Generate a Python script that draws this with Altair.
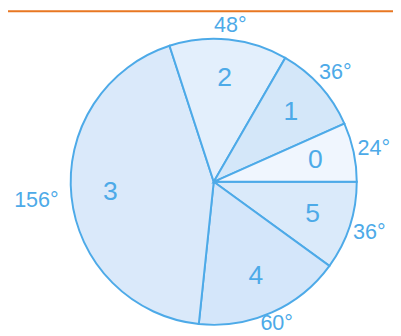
import math
import altair as alt
import pandas as pd

slices = ["5", "4", "3", "2", "1", "0"]
degrees = [36, 60, 156, 48, 36, 24]
fills = ["#DAEAFA", "#D4E6FA", "#DAE9FA", "#E3EFFC", "#D4E7F9", "#F0F6FE"]
order = [0, 1, 2, 3, 4, 5]

df = pd.DataFrame({
    "slice": slices,
    "deg": degrees,
    "label": [f"{d}°" for d in degrees],
    "ord": order,
})

BLUE = "#4DAAE8"
CX, CY = 210, 174

theta = alt.Theta("deg:Q", stack=True,
                  scale=alt.Scale(range=[math.pi / 2, math.pi / 2 + 2 * math.pi]))
color = alt.Color("slice:N", scale=alt.Scale(domain=slices, range=fills), legend=None)
common = dict(theta=theta, order=alt.Order("ord:Q"),
              x=alt.value(CX), y=alt.value(CY))

base = alt.Chart(df)

arcs = base.mark_arc(outerRadius=146, stroke=BLUE, strokeWidth=2).encode(
    color=color, **common)

names = base.mark_text(radius=106, fontSize=27, color=BLUE, font="Liberation Sans",
                       align="center", baseline="middle").encode(
    text="slice:N", **common)


def deg_layer(expr, r):
    return base.transform_calculate(t=expr).mark_text(
        radius=r, fontSize=22, color=BLUE, font="Liberation Sans",
        align="center", baseline="middle").encode(text="t:N", **common)


degs_main = deg_layer("(datum.slice == '3' || datum.slice == '4' || datum.slice == '2') ? '' : datum.label", 167)
degs_2 = deg_layer("datum.slice == '2' ? datum.label : ''", 161)
degs_3 = deg_layer("datum.slice == '3' ? datum.label : ''", 182)
degs_4 = deg_layer("datum.slice == '4' ? datum.label : ''", 158)

line_df = pd.DataFrame({"x0": [0], "x1": [1]})
topline = alt.Chart(line_df).mark_rule(color="#E87722", strokeWidth=2).encode(
    x=alt.value(0), x2=alt.value(393), y=alt.value(0))

chart = alt.layer(arcs, names, degs_main, degs_2, degs_3, degs_4, topline).properties(
    width=393, height=328, autosize=alt.AutoSizeParams(type="none"),
    padding=0,
).configure_view(stroke=None)

chart.save("out.html", embed_options={"renderer": "svg", "actions": False})
